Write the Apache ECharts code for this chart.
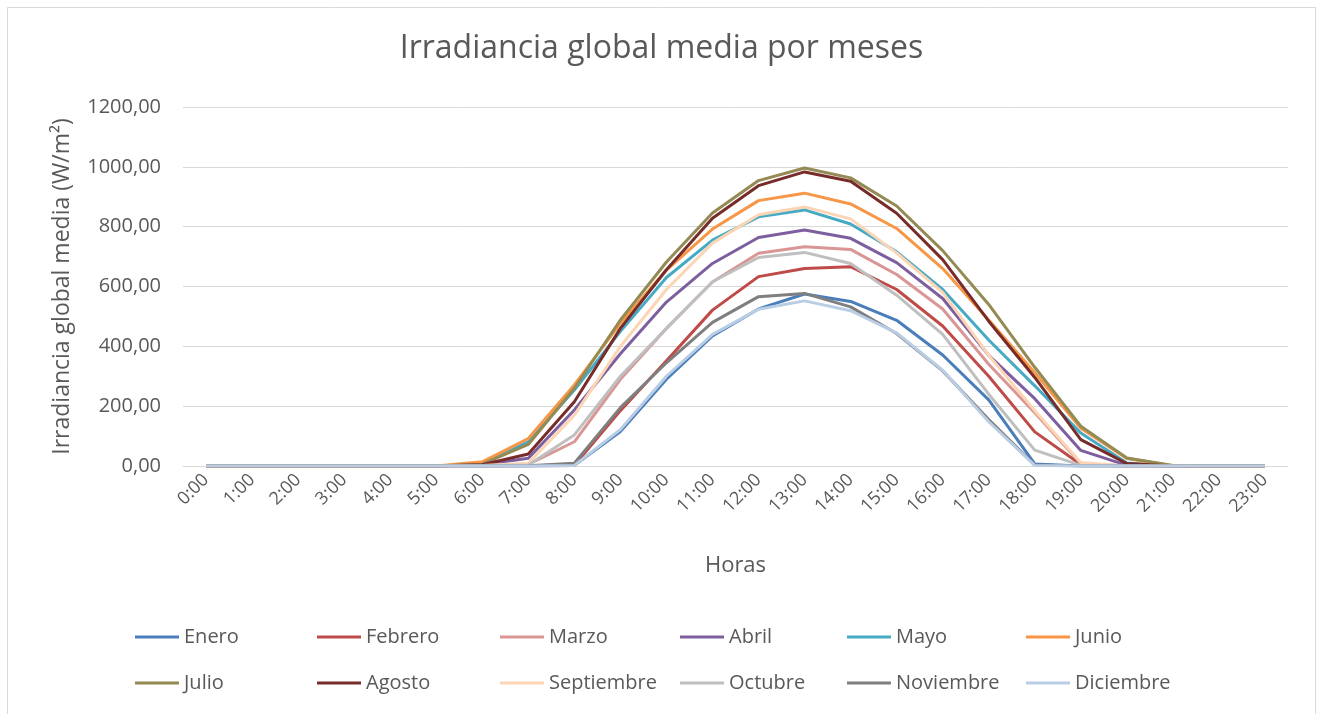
<!DOCTYPE html>
<html>
<head>
<meta charset="utf-8">
<title>Irradiancia global media por meses</title>
<script src="https://cdn.jsdelivr.net/npm/echarts@6/dist/echarts.min.js"></script>
<style>
  html, body { margin: 0; padding: 0; background: #fff; }
  #chart { width: 1323px; height: 714px; }
</style>
</head>
<body>
<div id="chart"></div>
<script>
// horas del día
const horas = ["0:00","1:00","2:00","3:00","4:00","5:00","6:00","7:00","8:00","9:00","10:00","11:00",
  "12:00","13:00","14:00","15:00","16:00","17:00","18:00","19:00","20:00","21:00","22:00","23:00"];

// irradiancia media (W/m2) por mes
const enero      = [0,0,0,0,0,0,0,0,2,115,290,435,525,575,550,487,371,221,7,0,0,0,0,0];
const febrero    = [0,0,0,0,0,0,0,1,2,185,352,521,633,660,666,590,468,300,114,5,0,0,0,0];
const marzo      = [0,0,0,0,0,0,2,5,81,290,460,615,711,733,724,640,525,340,178,8,0,0,0,0];
const abril      = [0,0,0,0,0,0,4,26,187,375,548,677,764,789,761,680,560,370,225,52,2,0,0,0];
const mayo       = [0,0,0,0,0,0,6,81,254,450,630,755,833,856,809,716,590,421,268,110,10,0,0,0];
const junio      = [0,0,0,0,0,0,14,92,271,477,655,792,887,912,876,794,660,488,312,126,25,1,0,0];
const julio      = [0,0,0,0,0,0,6,72,260,488,682,846,954,996,963,869,720,540,330,133,27,2,0,0];
const agosto     = [0,0,0,0,0,0,4,40,215,460,656,828,937,983,952,845,690,484,296,88,8,0,0,0];
const septiembre = [0,0,0,0,0,0,2,9,170,400,590,745,840,866,826,712,580,370,185,12,0,0,0,0];
const octubre    = [0,0,0,0,0,0,1,3,104,300,460,616,697,714,677,571,440,240,53,2,0,0,0,0];
const noviembre  = [0,0,0,0,0,0,0,1,9,195,345,480,566,577,532,443,318,155,3,0,0,0,0,0];
const diciembre  = [0,0,0,0,0,0,0,0,2,122,300,440,524,552,519,445,320,148,2,0,0,0,0,0];

const meses = ["Enero","Febrero","Marzo","Abril","Mayo","Junio",
  "Julio","Agosto","Septiembre","Octubre","Noviembre","Diciembre"];
const valores = [enero, febrero, marzo, abril, mayo, junio,
  julio, agosto, septiembre, octubre, noviembre, diciembre];
const colores = ["#4A7EBB","#BE4B48","#D99694","#7D5FA0","#46AAC5","#F79646",
  "#948A54","#772C2A","#FCD5B5","#BFBFBF","#7F7F7F","#B9CDE5"];

const fuente = "Open Sans";
const gris = "#595959";

let mychart = echarts.init(document.getElementById("chart"));

// una leyenda por columna (dos filas)
const columnas = [135, 317, 500, 680, 847, 1026];
const legend = columnas.map((x, i) => ({
  left: x,
  top: 625,
  padding: 0,
  orient: "vertical",
  itemGap: 22,
  itemWidth: 44,
  itemHeight: 3,
  icon: "rect",
  data: [meses[i], meses[i + 6]],
  textStyle: { color: gris, fontFamily: fuente, fontSize: 20, lineHeight: 24, padding: [0, 0, 0, 0] },
}));

const option = {
  animation: false,
  color: colores,
  graphic: [
    {
      type: "rect",
      shape: { x: 7.5, y: 7.5, width: 1308, height: 740 },
      style: { fill: null, stroke: "#D9D9D9", lineWidth: 1 },
    },
  ],
  title: {
    text: "Irradiancia global media por meses",
    left: "center",
    top: 28,
    textStyle: { color: gris, fontFamily: fuente, fontSize: 32, fontWeight: "normal" },
  },
  legend: legend,
  grid: { left: 183, right: 35, top: 107, bottom: 248 },
  xAxis: {
    type: "category",
    data: horas,
    boundaryGap: true,
    name: "Horas",
    nameLocation: "middle",
    nameGap: 89,
    nameTextStyle: { color: gris, fontFamily: fuente, fontSize: 22 },
    axisLine: { lineStyle: { color: "#D9D9D9", width: 1 } },
    axisTick: { show: false },
    axisLabel: { color: gris, fontFamily: fuente, fontSize: 18, rotate: 45, margin: 11, interval: 0 },
  },
  yAxis: {
    type: "value",
    min: 0,
    max: 1200,
    interval: 200,
    name: "Irradiancia global media (W/m²)",
    nameLocation: "middle",
    nameGap: 109,
    nameTextStyle: { color: gris, fontFamily: fuente, fontSize: 23 },
    axisLine: { show: false },
    axisTick: { show: false },
    axisLabel: {
      color: gris,
      fontFamily: fuente,
      fontSize: 20,
      margin: 22,
      formatter: (v) => v.toFixed(2).replace(".", ","),
    },
    splitLine: { lineStyle: { color: "#D9D9D9", width: 1 } },
  },
  series: meses.map((m, i) => ({
    name: m,
    type: "line",
    data: valores[i],
    symbol: "none",
    lineStyle: { width: 3, color: colores[i] },
    itemStyle: { color: colores[i] },
  })),
};
mychart.setOption(option);
</script>
</body>
</html>
